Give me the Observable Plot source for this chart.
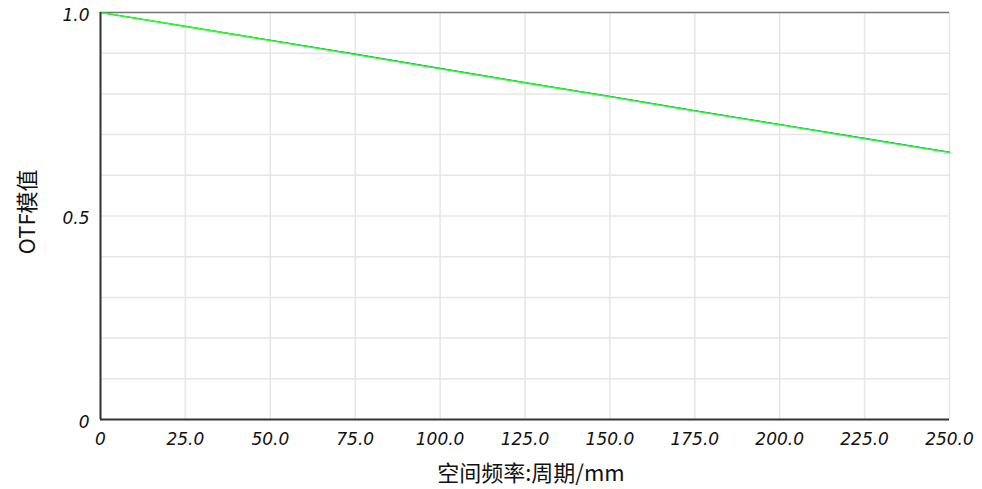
<!DOCTYPE html>
<html>
<head>
<meta charset="utf-8">
<script src="https://cdn.jsdelivr.net/npm/d3@7"></script>
<script src="https://cdn.jsdelivr.net/npm/@observablehq/plot@0.6"></script>
<style>
  html, body { margin: 0; padding: 0; background: #fff; }
  #chart svg { display: block; }
</style>
</head>
<body>
<div id="chart"></div>
<script>
const freq = [0, 25, 50, 75, 100, 125, 150, 175, 200, 225, 250];
const otfGreen = [1.0, 0.966, 0.931, 0.897, 0.862, 0.827, 0.793, 0.758, 0.724, 0.690, 0.656];
const otfBlue  = [1.0, 0.966, 0.932, 0.898, 0.863, 0.828, 0.794, 0.759, 0.725, 0.691, 0.657];
const xTicks = [0, 25, 50, 75, 100, 125, 150, 175, 200, 225, 250];
const yTicks = [0, 0.5, 1.0];
const yGrid = [0.1, 0.2, 0.3, 0.4, 0.5, 0.6, 0.7, 0.8, 0.9, 1.0];
const xLabel = "空间频率:周期/mm";
const yLabel = "OTF模值";

const green = freq.map((f, i) => ({f, v: otfGreen[i]}));
const blue = freq.map((f, i) => ({f, v: otfBlue[i]}));

const tickFont = "'DejaVu Sans', sans-serif";
const labelFont = "'Noto Sans CJK SC', 'DejaVu Sans', sans-serif";

const chart = Plot.plot({
  width: 982,
  height: 489,
  marginLeft: 100,
  marginRight: 33,
  marginTop: 12,
  marginBottom: 70,
  style: {background: "#fff"},
  x: {domain: [0, 250]},
  y: {domain: [0, 1]},
  marks: [
    Plot.gridX(xTicks, {stroke: "#e6e6e6", strokeOpacity: 1, strokeWidth: 1.5}),
    Plot.gridY(yGrid, {stroke: "#e6e6e6", strokeOpacity: 1, strokeWidth: 1.5}),
    Plot.ruleY([1], {stroke: "#777", strokeWidth: 1.5}),
    Plot.line(blue, {x: "f", y: "v", stroke: "#1a2ad0", strokeWidth: 1}),
    Plot.line(green, {x: "f", y: "v", stroke: "#22ff22", strokeWidth: 1.6}),
    Plot.ruleX([0], {stroke: "#333", strokeWidth: 2}),
    Plot.ruleY([0], {stroke: "#333", strokeWidth: 2}),
    Plot.axisX(xTicks, {
      tickSize: 0, tickPadding: 13, label: null,
      tickFormat: d => d === 0 ? "0" : d.toFixed(1),
      fontSize: 17, fontStyle: "italic", fontFamily: tickFont, fill: "#111"
    }),
    Plot.axisY(yTicks, {
      tickSize: 0, tickPadding: 11, label: null,
      tickFormat: d => d === 0 ? "0" : d.toFixed(1),
      fontSize: 17, fontStyle: "italic", fontFamily: tickFont, fill: "#111",
      dy: 3
    }),
    Plot.text([xLabel], {
      text: d => d, frameAnchor: "bottom", dy: 54, dx: 6, lineAnchor: "middle",
      textAnchor: "middle", fontSize: 22, fontFamily: labelFont, fill: "#111"
    }),
    Plot.text([yLabel], {
      text: d => d, frameAnchor: "left", dx: -73, dy: -4, rotate: -90,
      textAnchor: "middle", lineAnchor: "middle",
      fontSize: 22, fontFamily: labelFont, fill: "#111"
    })
  ]
});
document.getElementById("chart").appendChild(chart);
</script>
</body>
</html>
